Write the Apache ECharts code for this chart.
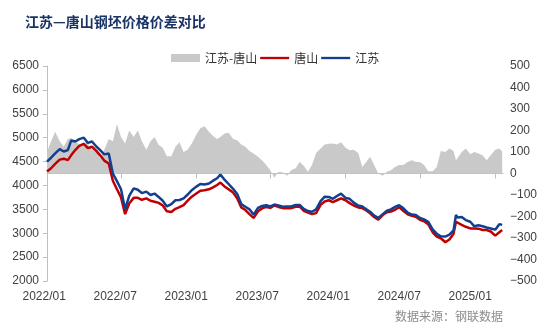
<!DOCTYPE html>
<html><head><meta charset="utf-8">
<script src="https://cdn.jsdelivr.net/npm/echarts@6/dist/echarts.min.js"></script>
<style>html,body{margin:0;padding:0;background:#fff}#c{width:550px;height:330px}</style>
</head><body><div id="c"></div>
<script>
const dates = [
'2022-01-01','2022-01-11','2022-01-21','2022-02-01','2022-02-11','2022-02-21','2022-03-01','2022-03-11','2022-03-21','2022-04-01','2022-04-11','2022-04-21',
'2022-05-01','2022-05-11','2022-05-21','2022-06-01','2022-06-11','2022-06-21','2022-07-01','2022-07-11','2022-07-21','2022-08-01','2022-08-11','2022-08-21',
'2022-09-01','2022-09-11','2022-09-21','2022-10-01','2022-10-11','2022-10-21','2022-11-01','2022-11-11','2022-11-21','2022-12-01','2022-12-11','2022-12-21',
'2023-01-01','2023-01-11','2023-01-21','2023-02-01','2023-02-11','2023-02-21','2023-03-01','2023-03-11','2023-03-21','2023-04-01','2023-04-11','2023-04-21',
'2023-05-01','2023-05-11','2023-05-21','2023-06-01','2023-06-11','2023-06-21','2023-07-01','2023-07-11','2023-07-21','2023-08-01','2023-08-11','2023-08-21',
'2023-09-01','2023-09-11','2023-09-21','2023-10-01','2023-10-11','2023-10-21','2023-11-01','2023-11-11','2023-11-21','2023-12-01','2023-12-11','2023-12-21',
'2024-01-01','2024-01-11','2024-01-21','2024-02-01','2024-02-11','2024-02-21','2024-03-01','2024-03-11','2024-03-21','2024-04-01','2024-04-11','2024-04-21',
'2024-05-01','2024-05-11','2024-05-21','2024-06-01','2024-06-11','2024-06-21','2024-07-01','2024-07-11','2024-07-21','2024-08-01','2024-08-11','2024-08-21',
'2024-09-01','2024-09-11','2024-09-21','2024-09-27','2024-10-01','2024-10-11','2024-10-21','2024-11-01','2024-11-11','2024-11-21','2024-12-01','2024-12-11','2024-12-21',
'2025-01-01','2025-01-11','2025-01-18'
];
const jiangsu = [
4500,4580,4670,4760,4710,4740,4940,4920,4970,5000,4890,4920,4820,4740,4650,4670,4250,4090,3920,3500,3780,3940,3910,3840,3870,3800,3830,3760,3680,3560,3610,3690,3695,3730,3810,3900,
3975,4030,4020,4040,4100,4150,4230,4120,4030,3930,3820,3610,3555,3500,3390,3530,3570,3585,3560,3600,3580,3555,3560,3560,3590,3590,3510,3465,3450,3500,3670,3765,3760,3720,3780,3830,
3740,3720,3640,3580,3560,3500,3450,3370,3320,3400,3470,3500,3550,3585,3525,3430,3390,3380,3320,3290,3240,3080,2990,2935,2930,2970,3060,3380,3330,3340,3275,3240,3145,3165,3145,3120,3100,
3075,3190,3175
];
const tangshan = [
4290,4360,4450,4540,4560,4530,4630,4740,4830,4870,4780,4810,4730,4630,4520,4460,4100,3920,3750,3400,3620,3740,3740,3700,3730,3680,3660,3635,3580,3460,3445,3510,3545,3590,3680,3765,
3830,3890,3900,3920,3960,4010,4060,3980,3920,3850,3730,3540,3485,3400,3320,3460,3520,3550,3530,3580,3550,3525,3525,3525,3555,3556,3470,3430,3400,3420,3595,3665,3690,3650,3690,3730,
3690,3630,3580,3540,3525,3475,3416,3340,3285,3380,3440,3455,3490,3545,3470,3395,3365,3345,3280,3250,3190,3020,2930,2895,2810,2870,2990,3240,3210,3175,3135,3100,3100,3095,3067,3065,3035,
2950,3020,3065
];
const spread = [
100,150,194,150,124,160,165,150,135,145,140,110,110,70,110,160,150,230,170,140,200,170,200,150,110,150,170,132,120,80,80,124,145,100,110,140,
180,210,220,194,175,160,170,186,190,160,155,135,124,105,93,78,60,40,15,-20,8,5,-10,15,25,55,35,8,40,95,116,135,138,140,135,145,
120,108,110,95,30,55,78,40,0,-10,8,15,30,39,39,54,62,54,54,39,10,10,30,105,100,116,105,62,60,100,116,90,100,93,85,62,85,
110,116,101
];
const xTickDates = ['2022-01-01','2022-07-01','2023-01-01','2023-07-01','2024-01-01','2024-07-01','2025-01-01'];
const xTickLabels = ['2022/01','2022/07','2023/01','2023/07','2024/01','2024/07','2025/01'];
const xStart = '2022-01-01', xEnd = '2025-01-20';

const t = d => Date.parse(d);
const pairs = arr => dates.map((d, i) => [t(d), arr[i]]);
const FONT = 'Liberation Sans, Arial, sans-serif';
const CJK = 'Noto Sans CJK SC, sans-serif';
const axisGray = '#BFBFBF';
const lineIcon = 'path://M0,0L0,0M0,2.8L30,2.8L30,5.2L0,5.2ZM30,8L30,8';

const chart = echarts.init(document.getElementById('c'), null, {renderer: 'canvas'});
chart.setOption({
  animation: false,
  backgroundColor: '#fff',
  graphic: [
    {type: 'text', left: 25, top: 15, style: {text: '江苏—唐山钢坯价格价差对比', fill: '#1A3366', font: 'bold 14px ' + CJK}},
    {type: 'text', right: 47, top: 310, style: {text: '数据来源：钢联数据', fill: '#8C8C8C', font: '12px ' + CJK}}
  ],
  legend: {
    left: 166, top: 47, itemWidth: 29, itemHeight: 8, itemGap: 3,
    textStyle: {fontFamily: CJK, fontSize: 12, color: '#333'},
    data: [{name: '江苏-唐山', icon: 'rect'}, {name: '唐山', icon: lineIcon}, {name: '江苏', icon: lineIcon}]
  },
  grid: [
    {left: 47, right: 47, top: 66, bottom: 49},
    {left: 44.2, width: 426, top: 66, bottom: 49}
  ],
  xAxis: [
    {type: 'value', gridIndex: 0, min: t(xStart), max: t(xEnd), interval: 182.625 * 86400000,
     axisLine: {show: true, lineStyle: {color: axisGray}},
     axisTick: {show: true, length: 5, lineStyle: {color: axisGray}, customValues: xTickDates.map(t)},
     axisLabel: {show: false}, splitLine: {show: false}},
    {type: 'value', gridIndex: 1, min: 0, max: 6, interval: 1,
     axisLine: {show: false}, axisTick: {show: false}, splitLine: {show: false},
     axisLabel: {show: true, margin: 10, fontFamily: FONT, fontSize: 12, color: '#404040',
       formatter: v => xTickLabels[Math.round(v)] || ''}}
  ],
  yAxis: [
    {type: 'value', gridIndex: 0, min: 2000, max: 6500, interval: 500,
     axisLine: {show: true, lineStyle: {color: axisGray}},
     axisTick: {show: true, length: 4, lineStyle: {color: axisGray}},
     axisLabel: {margin: 8, fontFamily: FONT, fontSize: 12, color: '#404040', formatter: v => String(v)},
     splitLine: {show: false}},
    {type: 'value', gridIndex: 0, position: 'right', min: -500, max: 500, interval: 100,
     axisLine: {show: false}, axisTick: {show: false}, splitLine: {show: false},
     axisLabel: {margin: 7, fontFamily: FONT, fontSize: 12, color: '#404040',
       formatter: v => v < 0 ? '\u2212' + Math.abs(v) : String(v)}},
    {type: 'value', gridIndex: 1, show: false, min: 0, max: 1}
  ],
  series: [
    {name: '江苏-唐山', type: 'line', xAxisIndex: 0, yAxisIndex: 1, data: pairs(spread),
     symbol: 'none', lineStyle: {width: 0, color: '#C9C9C9'}, itemStyle: {color: '#C9C9C9'},
     areaStyle: {color: '#C9C9C9', opacity: 1}, z: 1},
    {name: '唐山', type: 'line', xAxisIndex: 0, yAxisIndex: 0, data: pairs(tangshan),
     symbol: 'none', lineStyle: {width: 2.5, color: '#C00000'}, itemStyle: {color: '#C00000'}, z: 2},
    {name: '江苏', type: 'line', xAxisIndex: 0, yAxisIndex: 0, data: pairs(jiangsu),
     symbol: 'none', lineStyle: {width: 2.5, color: '#123F8F'}, itemStyle: {color: '#123F8F'}, z: 3}
  ]
});
</script>
</body></html>
